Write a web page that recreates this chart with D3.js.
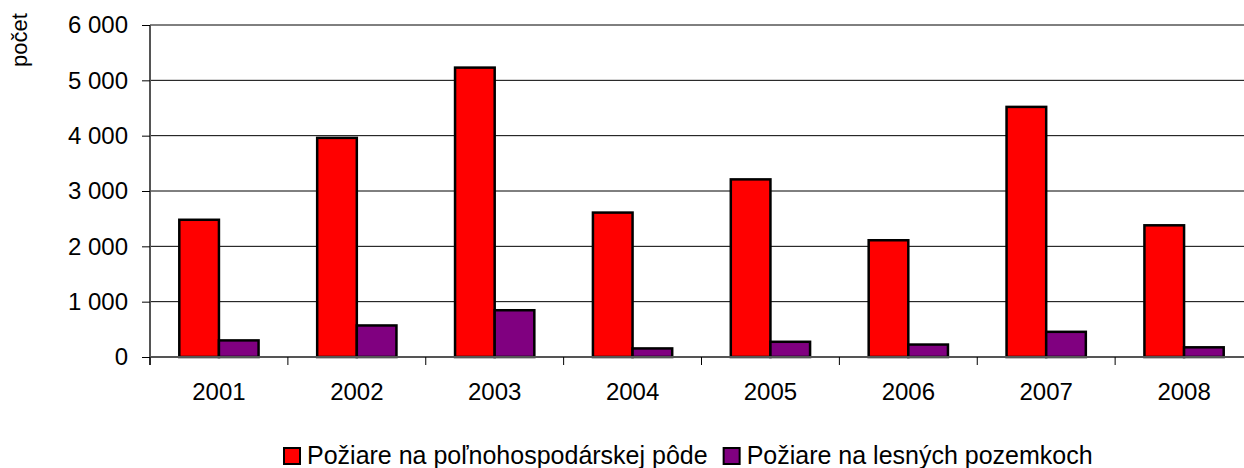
<!DOCTYPE html>
<html>
<head>
<meta charset="utf-8">
<script src="https://cdn.jsdelivr.net/npm/d3@7"></script>
<style>
  body { margin: 0; background: #fff; }
  text { font-family: "Liberation Sans", Arial, sans-serif; fill: #000; }
</style>
</head>
<body>
<script>
(function(){

  //chart data
  var years = ["2001", "2002", "2003", "2004", "2005", "2006", "2007", "2008"];
  var seriesNames = ["Požiare na poľnohospodárskej pôde", "Požiare na lesných pozemkoch"];
  var fieldFires = [2480, 3960, 5230, 2610, 3210, 2110, 4520, 2380];
  var forestFires = [300, 570, 845, 155, 275, 225, 455, 175];
  var yTicks = [0, 1000, 2000, 3000, 4000, 5000, 6000];
  var colors = ["#ff0000", "#800080"];

  var width = 1244, height = 468;

  var svg = d3.select("body").append("svg")
    .attr("width", width)
    .attr("height", height);

  var x = d3.scaleBand() //year bands
    .domain(years)
    .range([150, 1253]);

  var xInner = d3.scaleBand() //two bars per year
    .domain([0, 1])
    .range([29.3, x.bandwidth() - 29.3]);

  var y = d3.scaleLinear()
    .domain([0, 6000])
    .range([357, 25]);

  //gridlines
  svg.append("g")
    .selectAll("line")
    .data(yTicks.slice(1))
    .enter().append("line")
    .attr("x1", 150).attr("x2", width)
    .attr("y1", function(d){ return y(d); })
    .attr("y2", function(d){ return y(d); })
    .attr("stroke", "#000")
    .attr("stroke-width", 1);

  //bars
  var rows = years.map(function(yr, i){ return [fieldFires[i], forestFires[i]]; });
  svg.append("g")
    .selectAll("g")
    .data(rows)
    .enter().append("g")
    .attr("transform", function(d, i){ return "translate(" + x(years[i]) + ",0)"; })
    .selectAll("rect")
    .data(function(d){ return d; })
    .enter().append("rect")
    .attr("x", function(d, j){ return xInner(j); })
    .attr("y", function(d){ return y(d); })
    .attr("width", xInner.bandwidth())
    .attr("height", function(d){ return y(0) - y(d); })
    .attr("fill", function(d, j){ return colors[j]; })
    .attr("stroke", "#000")
    .attr("stroke-width", 2.5);

  //y axis
  var yAxis = svg.append("g")
    .attr("transform", "translate(150,0)")
    .call(d3.axisLeft(y).tickValues(yTicks).tickSizeOuter(0).tickSize(8).tickPadding(14)
      .tickFormat(function(d){ return d3.format(",")(d).replace(/,/g, " "); }));
  yAxis.select(".domain").attr("stroke", "#555").attr("stroke-width", 2)
    .attr("d", "M0,25V365");
  yAxis.selectAll(".tick line").attr("stroke", "#000");
  yAxis.selectAll("text").style("font-size", "24px").style("font-family", "Liberation Sans, Arial, sans-serif");

  //x axis
  var xAxis = svg.append("g")
    .attr("transform", "translate(0,357)")
    .call(d3.axisBottom(x).tickSize(0).tickPadding(26));
  xAxis.select(".domain").attr("stroke", "#555").attr("stroke-width", 2)
    .attr("d", "M150,0H" + width);
  xAxis.selectAll("text").style("font-size", "24px").style("font-family", "Liberation Sans, Arial, sans-serif");

  //band boundary ticks
  svg.append("g")
    .selectAll("line")
    .data(years)
    .enter().append("line")
    .attr("x1", function(d){ return x(d); })
    .attr("x2", function(d){ return x(d); })
    .attr("y1", 357).attr("y2", 365)
    .attr("stroke", "#000");

  //axis title
  svg.append("text")
    .attr("transform", "translate(27,40) rotate(-90)")
    .attr("text-anchor", "middle")
    .style("font-size", "22px")
    .text("počet");

  //legend
  var legend = svg.append("g");
  var lx = 284;
  seriesNames.forEach(function(name, i){
    legend.append("rect")
      .attr("x", lx).attr("y", 448)
      .attr("width", 16).attr("height", 16)
      .attr("fill", colors[i])
      .attr("stroke", "#000")
      .attr("stroke-width", 2);
    var t = legend.append("text")
      .attr("x", lx + 23).attr("y", 464)
      .style("font-size", "25px")
      .text(name);
    lx = lx + 23 + t.node().getComputedTextLength() + 16;
  });

})();
</script>
</body>
</html>
